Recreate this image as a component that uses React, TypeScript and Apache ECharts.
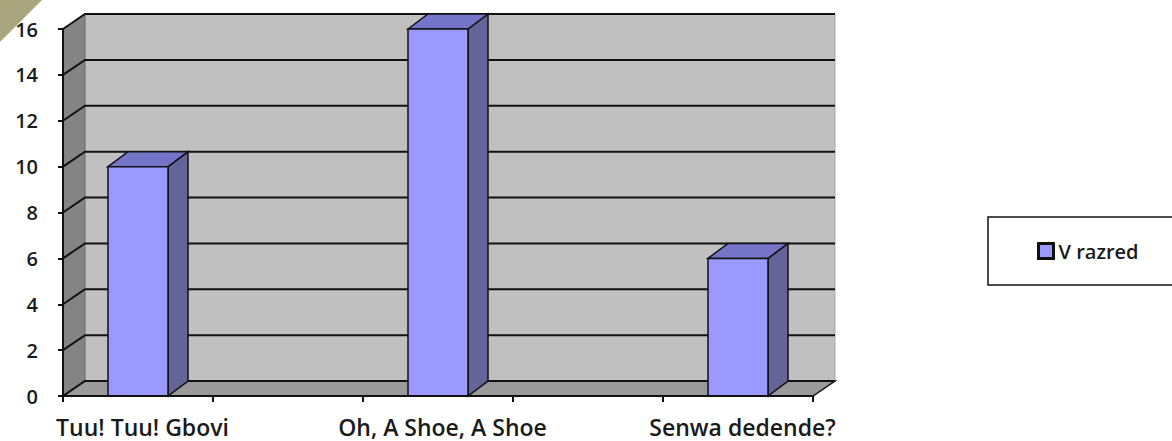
import React, { useEffect, useRef } from "react";
import * as echarts from "echarts";

const categories = ["Tuu! Tuu! Gbovi", "", "Oh, A Shoe, A Shoe", "", "Senwa dedende?"];
const values: (number | null)[] = [10, null, 16, null, 6];
const seriesName = "V razred";
const yTicks = [0, 2, 4, 6, 8, 10, 12, 14, 16];

const WALL_DX = 22;
const WALL_DY = -15;
const BAR_DX = 20;
const BAR_DY = -15;
const FONT = "'Open Sans', sans-serif";

export default function App() {
  const ref = useRef<HTMLDivElement>(null);
  useEffect(() => {
    if (!ref.current) return;
    const chart = echarts.init(ref.current, null, { renderer: "svg" });

    const wallsRender = (params: any, api: any) => {
      const cs = params.coordSys;
      const x0 = cs.x;
      const x1 = cs.x + cs.width;
      const y0 = api.coord([0, 0])[1];
      const yTop = api.coord([0, yTicks[yTicks.length - 1]])[1];
      const children: any[] = [];
      children.push({
        type: "polygon",
        shape: {
          points: [
            [x0 + WALL_DX, yTop + WALL_DY],
            [x1 + WALL_DX, yTop + WALL_DY],
            [x1 + WALL_DX, y0 + WALL_DY],
            [x0 + WALL_DX, y0 + WALL_DY],
          ],
        },
        style: { fill: "#c0c0c0", stroke: "#a8a8a8", lineWidth: 1 },
      });
      children.push({
        type: "polygon",
        shape: {
          points: [
            [x0, yTop],
            [x0 + WALL_DX, yTop + WALL_DY],
            [x0 + WALL_DX, y0 + WALL_DY],
            [x0, y0],
          ],
        },
        style: { fill: "#848484", stroke: "#6e6e6e", lineWidth: 1 },
      });
      children.push({
        type: "polygon",
        shape: {
          points: [
            [x0, y0],
            [x1, y0],
            [x1 + WALL_DX, y0 + WALL_DY],
            [x0 + WALL_DX, y0 + WALL_DY],
          ],
        },
        style: { fill: "#9a9a9a", stroke: "#111", lineWidth: 1.5 },
      });
      yTicks.forEach((v) => {
        const y = api.coord([0, v])[1];
        children.push({
          type: "polyline",
          shape: {
            points: [
              [x0, y],
              [x0 + WALL_DX, y + WALL_DY],
              [x1 + WALL_DX, y + WALL_DY],
            ],
          },
          style: { stroke: "#111", lineWidth: 2, fill: null },
        });
      });
      return { type: "group", children };
    };

    const barRender = (params: any, api: any) => {
      const v = api.value(1);
      if (v == null || isNaN(v)) return null;
      const top = api.coord([api.value(0), v]);
      const base = api.coord([api.value(0), 0]);
      const w = api.size([1, 0])[0] * 0.4;
      const xl = top[0] - w / 2;
      const xr = top[0] + w / 2;
      const yt = top[1];
      const yb = base[1];
      return {
        type: "group",
        children: [
          {
            type: "polygon",
            shape: {
              points: [
                [xr, yt],
                [xr + BAR_DX, yt + BAR_DY],
                [xr + BAR_DX, yb + BAR_DY],
                [xr, yb],
              ],
            },
            style: { fill: "#646499", stroke: "#111", lineWidth: 1.5 },
          },
          {
            type: "polygon",
            shape: {
              points: [
                [xl, yt],
                [xl + BAR_DX, yt + BAR_DY],
                [xr + BAR_DX, yt + BAR_DY],
                [xr, yt],
              ],
            },
            style: { fill: "#7474c8", stroke: "#111", lineWidth: 1.5 },
          },
          {
            type: "rect",
            shape: { x: xl, y: yt, width: w, height: yb - yt },
            style: { fill: "#9999ff", stroke: "#111", lineWidth: 1.5 },
          },
        ],
      };
    };

    chart.setOption({
      animation: false,
      backgroundColor: "#ffffff",
      grid: { left: 63, right: 359, top: 29, bottom: 45, containLabel: false },
      xAxis: {
        type: "category",
        data: categories,
        boundaryGap: true,
        axisLine: { show: true, lineStyle: { color: "#111", width: 2 } },
        axisTick: { show: true, length: 6, lineStyle: { color: "#111", width: 2 } },
        axisLabel: {
          interval: 0,
          margin: 19,
          padding: [0, 0, 0, 9],
          fontFamily: FONT,
          fontSize: 23,
          fontWeight: 600,
          color: "#1a1a1a",
        },
        splitLine: { show: false },
        z: 5,
      },
      yAxis: {
        type: "value",
        min: 0,
        max: 16,
        interval: 2,
        axisLine: { show: true, lineStyle: { color: "#111", width: 2 } },
        axisTick: { show: true, length: 5, lineStyle: { color: "#111", width: 2 } },
        axisLabel: {
          margin: 25,
          fontFamily: FONT,
          fontSize: 20,
          fontWeight: 600,
          color: "#1a1a1a",
        },
        splitLine: { show: false },
        z: 5,
      },
      legend: {
        show: true,
        left: 988,
        top: 217,
        orient: "vertical",
        data: [{ name: seriesName, icon: "rect" }],
        itemWidth: 15,
        itemHeight: 15,
        itemGap: 6,
        padding: [24, 120, 24, 49],
        borderColor: "#111",
        borderWidth: 1.5,
        backgroundColor: "#fff",
        itemStyle: { color: "#9999ff", borderColor: "#111", borderWidth: 3 },
        textStyle: { fontFamily: FONT, fontSize: 20, fontWeight: 600, color: "#1a1a1a" },
      },
      graphic: [
        {
          type: "polygon",
          shape: { points: [[0, 0], [42, 0], [0, 42]] },
          style: { fill: "#a8a47c" },
        },
      ],
      series: [
        {
          type: "custom",
          name: "walls",
          renderItem: wallsRender,
          data: [[0, 0]],
          silent: true,
          z: 1,
        },
        {
          type: "custom",
          name: seriesName,
          renderItem: barRender,
          data: values.map((v, i) => [i, v == null ? NaN : v]),
          itemStyle: { color: "#9999ff", borderColor: "#111", borderWidth: 2 },
          encode: { x: 0, y: 1 },
          z: 3,
        },
      ],
    });
    return () => chart.dispose();
  }, []);

  return (
    <div
      ref={ref}
      style={{ position: "fixed", left: 0, top: 0, width: 1172, height: 441, background: "#fff" }}
    />
  );
}
